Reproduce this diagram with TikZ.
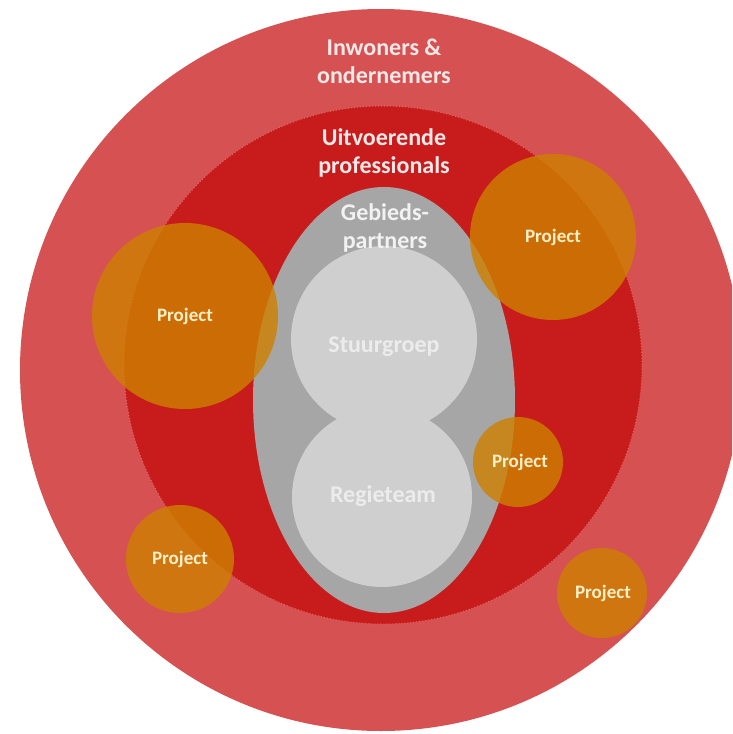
\documentclass[tikz,border=0pt]{standalone}
\usepackage{fontspec}
\setmainfont{Carlito}
\definecolor{outerred}{RGB}{214,82,82}
\definecolor{innerred}{RGB}{200,28,28}
\definecolor{dotred}{RGB}{228,100,100}
\definecolor{grayA}{RGB}{166,166,166}
\definecolor{grayB}{RGB}{207,207,207}
\definecolor{projfill}{RGB}{206,128,0}
\definecolor{labelpink}{RGB}{248,232,232}
\definecolor{labelgray}{RGB}{242,242,242}
\definecolor{labelcore}{RGB}{236,236,236}
\definecolor{labelproj}{RGB}{255,240,200}
\tikzset{
  ringlabel/.style={text=labelpink, font=\bfseries\fontsize{24}{28}\selectfont, align=center, inner sep=0pt},
  graylabel/.style={text=labelgray, font=\bfseries\fontsize{24}{28}\selectfont, align=center, inner sep=0pt},
  corelabel/.style={text=labelcore, font=\bfseries\fontsize{24}{28}\selectfont, align=center, inner sep=0pt},
  projlabel/.style={text=labelproj, font=\bfseries\fontsize{19}{22}\selectfont, inner sep=0pt},
  projdisc/.style={fill=projfill, fill opacity=0.8}
}
\begin{document}
\begin{tikzpicture}[x=1pt,y=-1pt]
\useasboundingbox (0,0) rectangle (732,734);
\clip (0,0) rectangle (732,734);
\fill[white] (0,0) rectangle (732,734);
% outer ring
\fill[outerred] (381,370) circle (361pt);
% inner circle
\fill[innerred] (383,365) circle (259pt);
\draw[dotred, line width=1pt, dotted] (383,365) circle (259pt);
% area partners
\fill[grayA] (384,400) ellipse (131pt and 213pt);
% core
\fill[grayB] (384,339) circle (93pt);
\fill[grayB] (382,497) circle (90pt);
% projects
\fill[projdisc] (185,316) circle (93pt);
\fill[projdisc] (553,237) circle (83pt);
\fill[projdisc] (518,462) circle (45pt);
\fill[projdisc] (180,559) circle (54pt);
\fill[projdisc] (602,593) circle (45pt);
% labels
\node[ringlabel] (inw) at (384,61) {Inwoners \&\\ondernemers};
\node[ringlabel] (uit) at (384,153) {Uitvoerende\\professionals};
\node[graylabel] (geb) at (385,228) {Gebieds-\\partners};
\node[corelabel] (stu) at (384,347) {Stuurgroep};
\node[corelabel] (reg) at (383,496) {Regieteam};
\node[projlabel] (p1) at (185,316) {Project};
\node[projlabel] (p2) at (553,237) {Project};
\node[projlabel] (p3) at (520,462) {Project};
\node[projlabel] (p4) at (180,559) {Project};
\node[projlabel] (p5) at (603,593) {Project};
\end{tikzpicture}
\end{document}
